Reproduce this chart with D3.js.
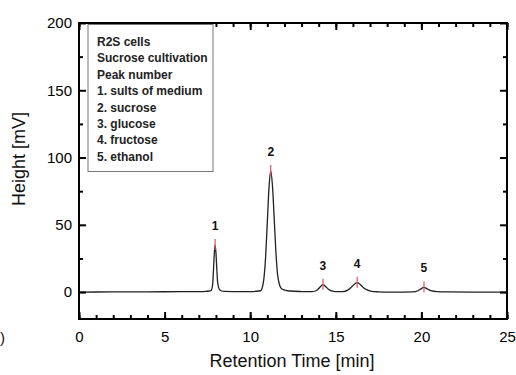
<!DOCTYPE html>
<html>
<head>
<meta charset="utf-8">
<script src="https://cdn.jsdelivr.net/npm/d3@7"></script>
<style>
  html, body { margin: 0; padding: 0; background: #fff; }
  svg { display: block; font-family: "Liberation Sans", Arial, sans-serif; }
</style>
</head>
<body>
<svg id="chart" width="516" height="375"></svg>
<script>
// ---- data ----
const traceTime = [0, 2, 4, 6, 7.0, 7.4, 7.6, 7.7, 7.8, 7.85, 7.9, 7.95, 8.0, 8.05, 8.1, 8.2, 8.3, 8.5, 9, 10,
  10.6, 10.7, 10.8, 10.9, 11.0, 11.1, 11.2, 11.3, 11.4, 11.5, 11.6, 11.7, 11.8, 12.0, 12.3, 13,
  13.6, 13.8, 13.95, 14.1, 14.25, 14.4, 14.55, 14.75, 15.0, 15.4, 15.7, 15.9, 16.1, 16.25, 16.4, 16.6, 16.8, 17.1, 17.5, 18, 19,
  19.5, 19.8, 19.95, 20.15, 20.35, 20.55, 20.9, 21.5, 23, 25];
const traceHeight = [0, 0.1, 0.2, 0.3, 0.3, 0.5, 0.8, 1, 5, 15, 28, 35, 29, 17, 7, 2, 1, 0.5, 0.4, 0.4,
  1, 3, 10, 26, 52, 78, 90, 79, 55, 30, 13, 6, 3, 1.5, 0.8, 0.4,
  0.3, 0.8, 2, 4, 5.5, 4.2, 2.3, 0.9, 0.4, 0.4, 1.5, 3.5, 6, 7, 6, 3.5, 1.8, 0.6, 0.2, 0, 0,
  0.1, 1, 2.2, 3.5, 2.3, 1, 0.3, 0.1, 0, 0];
const peakNumbers = ["1", "2", "3", "4", "5"];
const peakTimes = [7.95, 11.2, 14.25, 16.25, 20.15];
const peakHeights = [35, 90, 5.5, 7, 3.5];
const legendLines = ["R2S cells", "Sucrose cultivation", "Peak number", "1. sults of medium",
  "2. sucrose", "3. glucose", "4. fructose", "5. ethanol"];
const xMajorTicks = [0, 5, 10, 15, 20, 25];
const xMinorTicks = d3.range(0, 26, 1);
const yMajorTicks = [0, 50, 100, 150, 200];
const yMinorTicks = [25, 75, 125, 175];
const xTitle = "Retention Time [min]";
const yTitle = "Height [mV]";

// ---- layout ----
const svg = d3.select("#chart");
const L = 79, R = 507, T = 23, B = 319;
const x = d3.scaleLinear().domain([0, 25]).range([L, R]);
const y = d3.scaleLinear().domain([-20, 200]).range([B, T]);

// trace
const line = d3.line().x((d, i) => x(traceTime[i])).y((d, i) => y(traceHeight[i])).curve(d3.curveMonotoneX);
svg.append("path").datum(traceTime).attr("d", line)
  .attr("fill", "none").attr("stroke", "#222").attr("stroke-width", 1.3);

// red peak markers
svg.selectAll(".pm").data(peakTimes).enter().append("line")
  .attr("x1", d => x(d)).attr("x2", d => x(d))
  .attr("y1", (d, i) => y(peakHeights[i]) - 6).attr("y2", (d, i) => y(peakHeights[i]) + 5)
  .attr("stroke", "#e0506a").attr("stroke-width", 1.2);

// peak numbers
svg.selectAll(".pn").data(peakNumbers).enter().append("text")
  .attr("x", (d, i) => x(peakTimes[i])).attr("y", (d, i) => y(peakHeights[i]) - 15)
  .attr("text-anchor", "middle").attr("font-size", 12).attr("font-weight", "bold").attr("fill", "#111")
  .text(d => d);

// axes helper
function styleAxis(g) {
  g.select(".domain").remove();
  g.selectAll("line").attr("stroke", "#000").attr("stroke-width", 2);
  g.selectAll("text").attr("fill", "#000").attr("font-size", 15)
    .attr("font-family", '"Liberation Sans", Arial, sans-serif');
}

// bottom
svg.append("g").attr("transform", `translate(0,${B})`)
  .call(d3.axisBottom(x).tickValues(xMinorTicks).tickSize(-4).tickFormat(""))
  .call(styleAxis);
svg.append("g").attr("transform", `translate(0,${B})`)
  .call(d3.axisBottom(x).tickValues(xMajorTicks).tickSize(-7).tickPadding(12).tickFormat(d3.format("d")))
  .call(styleAxis);
// top
svg.append("g").attr("transform", `translate(0,${T})`)
  .call(d3.axisTop(x).tickValues(xMinorTicks).tickSize(-4).tickFormat(""))
  .call(styleAxis);
svg.append("g").attr("transform", `translate(0,${T})`)
  .call(d3.axisTop(x).tickValues(xMajorTicks).tickSize(-7).tickFormat(""))
  .call(styleAxis);
// left
svg.append("g").attr("transform", `translate(${L},0)`)
  .call(d3.axisLeft(y).tickValues(yMinorTicks).tickSize(-4).tickFormat(""))
  .call(styleAxis);
svg.append("g").attr("transform", `translate(${L},0)`)
  .call(d3.axisLeft(y).tickValues(yMajorTicks).tickSize(-7).tickPadding(7).tickFormat(d3.format("d")))
  .call(styleAxis);
// right
svg.append("g").attr("transform", `translate(${R},0)`)
  .call(d3.axisRight(y).tickValues(yMinorTicks).tickSize(-4).tickFormat(""))
  .call(styleAxis);
svg.append("g").attr("transform", `translate(${R},0)`)
  .call(d3.axisRight(y).tickValues(yMajorTicks).tickSize(-7).tickFormat(""))
  .call(styleAxis);

// frame
svg.append("rect").attr("x", L).attr("y", T).attr("width", R - L).attr("height", B - T)
  .attr("fill", "none").attr("stroke", "#000").attr("stroke-width", 2);

// legend box
const lg = svg.append("g");
lg.append("rect").attr("x", 88).attr("y", 24.5).attr("width", 125).attr("height", 147)
  .attr("fill", "#fff").attr("stroke", "#777").attr("stroke-width", 1);
lg.selectAll("text").data(legendLines).enter().append("text")
  .attr("x", 97).attr("y", (d, i) => 46 + i * 16.4)
  .attr("font-size", 12).attr("font-weight", "bold").attr("fill", "#222")
  .text(d => d);

// titles
svg.append("text").attr("x", 292).attr("y", 367).attr("text-anchor", "middle")
  .attr("font-size", 18).attr("fill", "#111").text(xTitle);
svg.append("text").attr("transform", "translate(25,159) rotate(-90)").attr("text-anchor", "middle")
  .attr("font-size", 18).attr("fill", "#111").text(yTitle);
// panel-letter remnant visible at the left edge
svg.append("text").attr("x", 0).attr("y", 343)
  .attr("font-size", 15).attr("fill", "#111").text(")");
</script>
</body>
</html>
